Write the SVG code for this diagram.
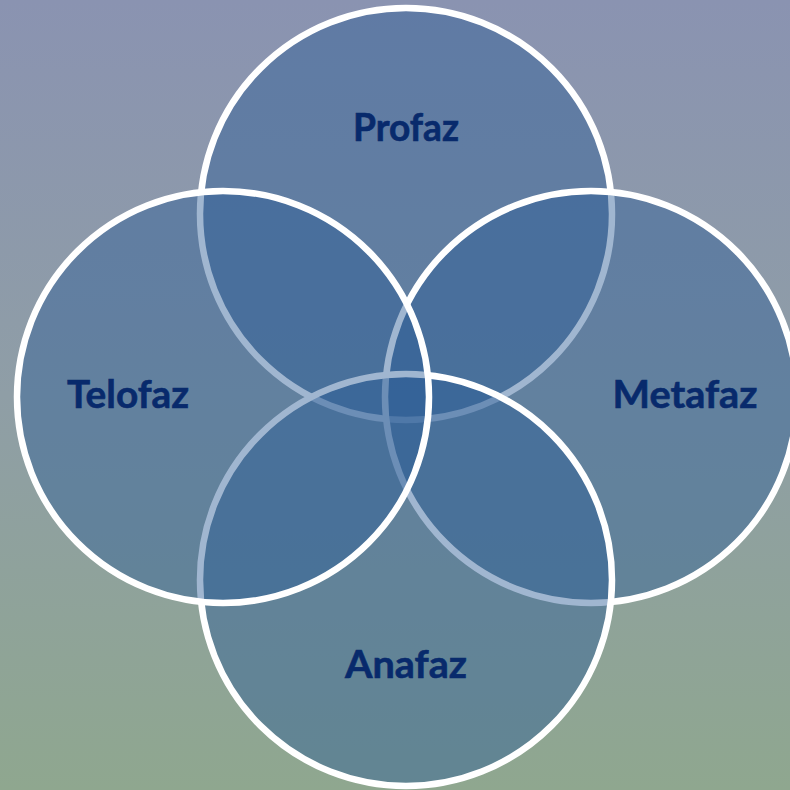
<svg xmlns="http://www.w3.org/2000/svg" width="790" height="790" viewBox="0 0 790 790">
  <defs>
    <linearGradient id="bg" x1="0" y1="0" x2="0" y2="1">
      <stop offset="0" stop-color="#8a93b1"/>
      <stop offset="0.5" stop-color="#8f9ea6"/>
      <stop offset="1" stop-color="#8fa78f"/>
    </linearGradient>
    <style>
      .ring { fill: #2d5e96; fill-opacity: 0.45; stroke: #ffffff; stroke-width: 6.5; }
      .lbl { font-family: "Lato", "Liberation Sans", sans-serif; font-weight: bold; font-size: 39px; fill: #082a6c; stroke: #082a6c; stroke-width: 0.6; text-anchor: middle; }
    </style>
  </defs>
  <rect x="0" y="0" width="790" height="790" fill="url(#bg)"/>
  <g id="profaz">
    <circle class="ring" cx="406" cy="214" r="206"/>
    <text class="lbl" x="406" y="141" textLength="106" lengthAdjust="spacingAndGlyphs">Profaz</text>
  </g>
  <g id="metafaz">
    <circle class="ring" cx="591" cy="397" r="206"/>
    <text class="lbl" x="685" y="408" textLength="145" lengthAdjust="spacingAndGlyphs">Metafaz</text>
  </g>
  <g id="anafaz">
    <circle class="ring" cx="406" cy="580" r="206"/>
    <text class="lbl" x="406" y="678" textLength="122" lengthAdjust="spacingAndGlyphs">Anafaz</text>
  </g>
  <g id="telofaz">
    <circle class="ring" cx="223" cy="397" r="206"/>
    <text class="lbl" x="128" y="408" textLength="122" lengthAdjust="spacingAndGlyphs">Telofaz</text>
  </g>
  <g id="connectors"/>
</svg>
